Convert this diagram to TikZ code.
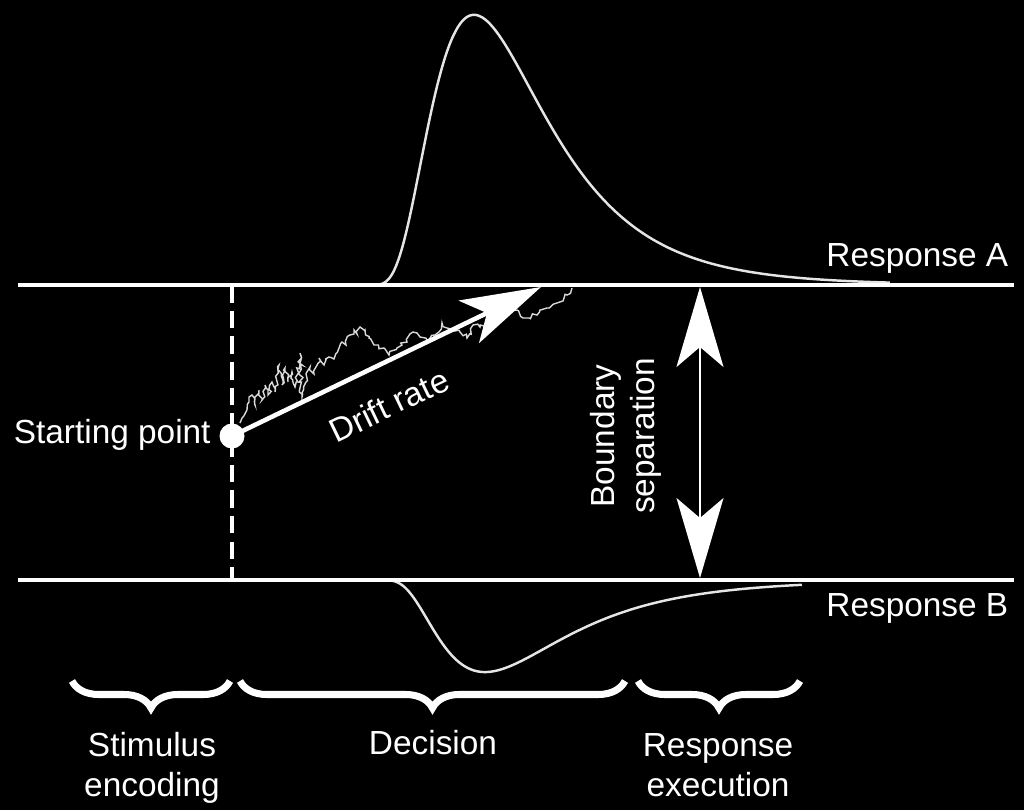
\documentclass[tikz,border=0pt]{standalone}
\usepackage{fontspec}
\setmainfont{Liberation Sans}
\usetikzlibrary{arrows.meta, decorations.pathmorphing, decorations.pathreplacing}

\begin{document}
\begin{tikzpicture}[>={Stealth[length=8mm, width=4.7mm, inset=2mm]},
        font=\fontsize{9.5}{11.4}\selectfont,
        every node/.style={text=white},
        bound/.style={white, line width=1.2pt},
        density/.style={white!90!black, line width=0.7pt},
        phase/.style={white, line width=2pt, decorate, decoration={brace, amplitude=0.27cm}}]
        % Background and frame
        \fill[black] (0, 0) rectangle (10.24, 8.10);
        \useasboundingbox (0, 0) rectangle (10.24, 8.10);

        % RT densities at each boundary
        \draw[density] plot[domain=0.2:5.3, samples=160, smooth] ({3.60+\x}, {5.25+3.49*exp(-((ln(\x)-0.381)^2)/0.5)/\x});
        \draw[density] plot[domain=0.2:4.3, samples=160, smooth] ({3.72+\x}, {2.30-1.21*exp(-((ln(\x)-0.4247)^2)/0.605)/\x});

        % Boundaries
        \draw[bound] (0.18, 5.25) -- (10.14, 5.25);
        \draw[bound] (0.18, 2.30) -- (10.14, 2.30);
        \node[anchor=west] (respA) at (8.14, 5.52) {Response A};
        \node[anchor=west] (respB) at (8.14, 2.02) {Response B};

        % End of encoding
        \draw[white, line width=1.1pt, dash pattern=on 5pt off 2.3pt] (2.32, 5.25) -- (2.32, 2.30);

        % Starting point
        \node[circle, fill=white, inner sep=0pt, minimum size=0.25cm] (start) at (2.32, 3.74) {};
        \node[anchor=east] (startlbl) at (2.23, 3.755) {Starting point};

        % Noisy accumulation path
        \pgfmathsetseed{11}
        \draw[white!85!black, line width=0.4pt, decorate, decoration={random steps, segment length=1pt, amplitude=0.7pt}]
            (2.40, 3.87) -- (2.49, 4.08) -- (2.52, 4.15) -- (2.55, 4.05) -- (2.59, 4.20) -- (2.62, 4.10)
            -- (2.65, 4.25) -- (2.68, 4.15) -- (2.72, 4.28) -- (2.75, 4.18) -- (2.79, 4.45) -- (2.82, 4.25)
            -- (2.85, 4.42) -- (2.88, 4.28) -- (2.92, 4.38) -- (2.95, 4.23) -- (3.00, 4.57) -- (3.02, 4.13)
            -- (3.06, 4.28) -- (3.10, 4.43) -- (3.14, 4.36) -- (3.19, 4.52) -- (3.24, 4.45) -- (3.29, 4.53)
            -- (3.34, 4.51) -- (3.39, 4.62) -- (3.42, 4.68) -- (3.46, 4.65) -- (3.50, 4.75) -- (3.54, 4.80)
            -- (3.57, 4.76) -- (3.60, 4.83) -- (3.65, 4.80) -- (3.69, 4.72) -- (3.74, 4.65) -- (3.84, 4.62)
            -- (3.89, 4.55) -- (3.97, 4.62) -- (4.07, 4.68) -- (4.13, 4.78) -- (4.20, 4.73) -- (4.27, 4.70)
            -- (4.35, 4.75) -- (4.42, 4.87) -- (4.47, 4.82) -- (4.60, 4.78) -- (4.67, 4.72) -- (4.73, 4.85)
            -- (4.80, 4.83) -- (5.00, 4.92) -- (5.17, 5.00) -- (5.23, 4.92) -- (5.37, 4.95) -- (5.47, 5.02)
            -- (5.57, 5.07) -- (5.67, 5.15) -- (5.72, 5.22);

        % Drift rate
        \coordinate (drift) at (5.41, 5.23);
        \draw[->, white, line width=1.3pt] (start.center) -- (drift);
        \node[rotate=25.7] (driftlbl) at (3.89, 4.05) {Drift rate};

        % Boundary separation
        \coordinate (sepA) at (7.00, 5.23);
        \coordinate (sepB) at (7.00, 2.32);
        \draw[<->, white, line width=0.6pt] (sepA) -- (sepB);
        \node[rotate=90, align=center] (seplbl) at (6.26, 3.74) {Boundary\\separation};

        % Processing stages
        \draw[phase] (2.30, 1.29) -- (0.72, 1.29);
        \draw[phase] (6.25, 1.29) -- (2.40, 1.29);
        \draw[phase] (8.00, 1.29) -- (6.38, 1.29);
        \node[align=center] (encode) at (1.52, 0.42) {Stimulus\\encoding};
        \node (decide) at (4.33, 0.67) {Decision};
        \node[align=center] (execute) at (7.18, 0.45) {Response\\execution};
    \end{tikzpicture}
\end{document}
